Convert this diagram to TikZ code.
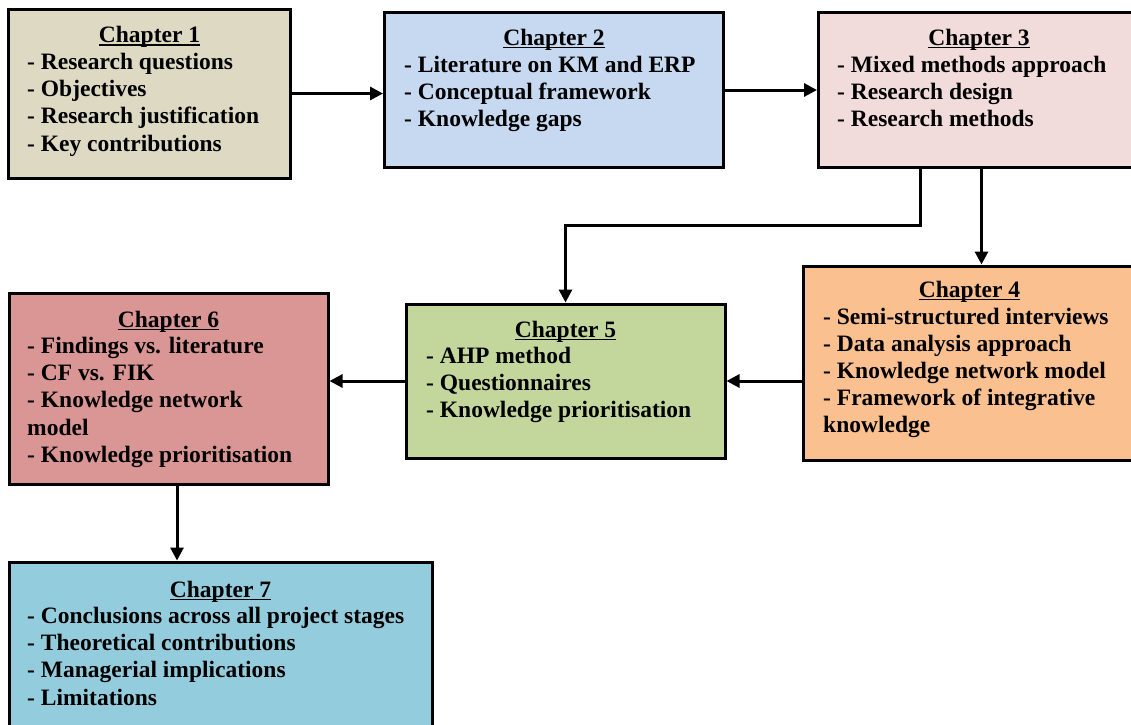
\documentclass[tikz,border=0pt]{standalone}
\usepackage{fontspec}
\setmainfont{Liberation Serif}
\usetikzlibrary{arrows.meta,calc}

\definecolor{fillA}{HTML}{DDD9C3}
\definecolor{fillB}{HTML}{C6D9F0}
\definecolor{fillC}{HTML}{F2DCDB}
\definecolor{fillD}{HTML}{FAC090}
\definecolor{fillE}{HTML}{C3D69B}
\definecolor{fillF}{HTML}{D99694}
\definecolor{fillG}{HTML}{93CDDD}

% thick underline for the chapter headings
\newcommand\chapul[1]{\setbox0\hbox{#1}\rlap{\rule[-3.2pt]{\wd0}{1.6pt}}\box0}

\tikzset{
  box/.style={draw=black, line width=3pt, anchor=north west, inner sep=0pt},
  chead/.style={anchor=base, inner sep=0pt, font=\fontsize{23.5}{27.2}\selectfont\bfseries},
  cbody/.style={anchor=base west, inner sep=0pt, font=\fontsize{23.5}{27.2}\selectfont\bfseries},
  arr/.style={line width=3pt, -{Triangle[length=13pt,width=13pt]}}
}

\newcommand\items[1]{\begin{tabular}[t]{@{}l@{}}#1\end{tabular}}

\begin{document}
\begin{tikzpicture}[x=1pt,y=-1pt]
\useasboundingbox (0,0) rectangle (1131,724);

% chapter boxes (positions are the outer corners of the borders)
\node[box, fill=fillA, minimum width=282pt, minimum height=169pt] (ch1) at (7,7.5) {};
\node[box, fill=fillB, minimum width=339pt, minimum height=155pt] (ch2) at (383,11) {};
\node[box, fill=fillC, minimum width=322pt, minimum height=155pt] (ch3) at (817,11) {};
\node[box, fill=fillD, minimum width=333pt, minimum height=194pt] (ch4) at (801.5,264.5) {};
\node[box, fill=fillE, minimum width=319pt, minimum height=154pt] (ch5) at (404.5,302.5) {};
\node[box, fill=fillF, minimum width=319pt, minimum height=191pt] (ch6) at (7.5,292) {};
\node[box, fill=fillG, minimum width=423pt, minimum height=180pt] (ch7) at (7.5,560.5) {};

% headings
\node[chead] (h1) at (149.5,42.5) {\chapul{Chapter 1}};
\node[chead] (h2) at (554,45) {\chapul{Chapter 2}};
\node[chead] (h3) at (979,45) {\chapul{Chapter 3}};
\node[chead] (h4) at (969.5,297) {\chapul{Chapter 4}};
\node[chead] (h5) at (565.5,337) {\chapul{Chapter 5}};
\node[chead] (h6) at (168.5,327) {\chapul{Chapter 6}};
\node[chead] (h7) at (220.5,597) {\chapul{Chapter 7}};

% item lists
\node[cbody] (b1) at (27,69.5) {\items{- Research questions\\- Objectives\\- Research justification\\- Key contributions}};
\node[cbody] (b2) at (404,72) {\items{- Literature on KM and ERP\\- Conceptual framework\\- Knowledge gaps}};
\node[cbody] (b3) at (837,72) {\items{- Mixed methods approach\\- Research design\\- Research methods}};
\node[cbody] (b4) at (823,324) {\items{- Semi-structured interviews\\- Data analysis approach\\- Knowledge network model\\- Framework of integrative\\knowledge}};
\node[cbody] (b5) at (426,363.5) {\items{- AHP method\\- Questionnaires\\- Knowledge prioritisation}};
\node[cbody] (b6) at (27,353.5) {\items{- Findings vs. literature\\- CF vs. FIK\\- Knowledge network\\model\\- Knowledge prioritisation}};
\node[cbody] (b7) at (27,623.5) {\items{- Conclusions across all project stages\\- Theoretical contributions\\- Managerial implications\\- Limitations}};

% connectors
\coordinate (turn) at (ch5.north |- 0,225);
\draw[arr] (ch1.east) -- (ch1.east -| ch2.west);
\draw[arr] (ch2.east) -- (ch2.east -| ch3.west);
\draw[arr] ([xshift=-59pt]ch3.south) |- (turn) -- (ch5.north);
\draw[arr] ([xshift=2pt]ch3.south) -- ([xshift=2pt]ch3.south |- ch4.north);
\draw[arr] (ch5.east -| ch4.west) -- (ch5.east);
\draw[arr] (ch5.west) -- (ch5.west -| ch6.east);
\draw[arr] ([xshift=8.5pt]ch6.south) -- ([xshift=8.5pt]ch6.south |- ch7.north);
\end{tikzpicture}
\end{document}
